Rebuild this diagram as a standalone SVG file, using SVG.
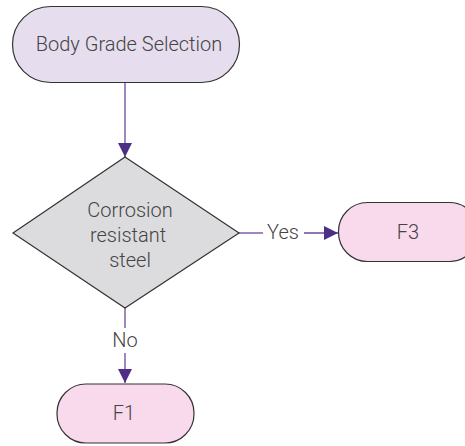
<svg xmlns="http://www.w3.org/2000/svg" width="465" height="446" viewBox="0 0 465 446">
<defs>
<marker id="arr" viewBox="0 0 10 10" refX="10" refY="5" markerWidth="14" markerHeight="14" markerUnits="userSpaceOnUse" orient="auto">
<path d="M0,0 L10,5 L0,10 z" fill="#4e2f86"/>
</marker>
<style>
.t{font-family:Roboto,"Liberation Sans",sans-serif;font-size:20px;font-weight:300;fill:#444;text-anchor:middle}
.ln{stroke:#6a4a9a;stroke-width:1.3;fill:none}
.nd{stroke:#333;stroke-width:1.2}
</style>
</defs>
<rect width="465" height="446" fill="#fff"/>
<g id="connectors">
<line class="ln" x1="125" y1="82" x2="125" y2="157" marker-end="url(#arr)"/>
<line class="ln" x1="239" y1="233" x2="263" y2="233"/>
<line class="ln" x1="304" y1="233" x2="338" y2="233" marker-end="url(#arr)"/>
<line class="ln" x1="125" y1="308" x2="125" y2="328"/>
<line class="ln" x1="125" y1="353" x2="125" y2="383" marker-end="url(#arr)"/>
<text class="t" x="283" y="239">Yes</text>
<text class="t" x="125" y="347">No</text>
</g>
<g id="start">
<rect class="nd" x="12.5" y="6.5" width="227" height="76" rx="38" fill="#e6deee"/>
<text class="t" x="129" y="51">Body Grade Selection</text>
</g>
<g id="decision">
<polygon class="nd" points="125,157 239,233 125,308 13,233" fill="#dcdcde"/>
<text class="t" x="130" y="217">Corrosion</text>
<text class="t" x="128" y="242">resistant</text>
<text class="t" x="130" y="267">steel</text>
</g>
<g id="f3">
<rect class="nd" x="338.5" y="202.5" width="140" height="59" rx="29" fill="#f9d9ec"/>
<text class="t" x="408" y="239">F3</text>
</g>
<g id="f1">
<rect class="nd" x="57" y="384" width="137" height="59" rx="29" fill="#f9d9ec"/>
<text class="t" x="124" y="420">F1</text>
</g>
</svg>
